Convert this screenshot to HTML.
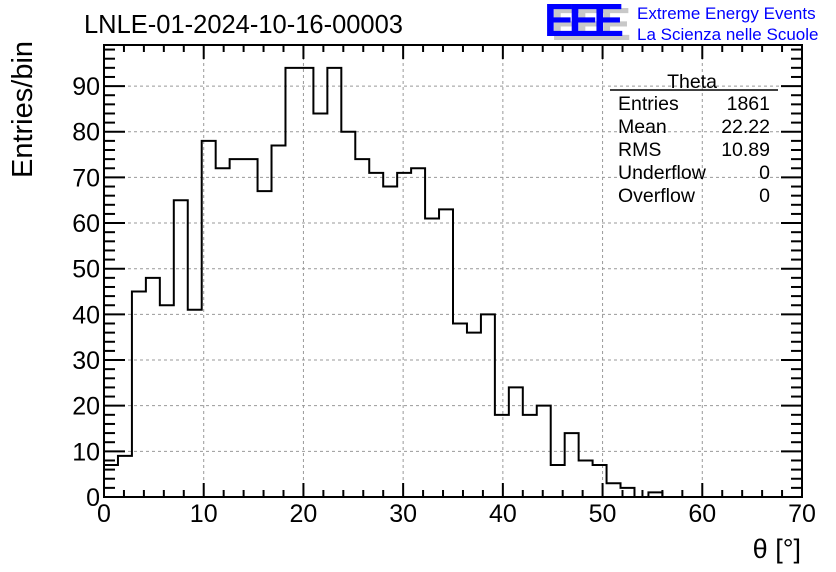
<!DOCTYPE html>
<html><head><meta charset="utf-8"><style>
html,body{margin:0;padding:0;background:#fff;}
svg{display:block;font-family:"Liberation Sans",Arial,sans-serif;}
</style></head><body>
<svg id="chart" width="836" height="572" viewBox="0 0 836 572">
<text x="84" y="33" font-size="25.5">LNLE-01-2024-10-16-00003</text>
<g>
<text x="551" y="40" font-size="46" fill="#c8c8c8" font-weight="bold" letter-spacing="-6">EEE</text>
<text x="544" y="36" font-size="46" fill="#0000ff" font-weight="bold" letter-spacing="-6">EEE</text>
<text x="637" y="19" font-size="17" fill="#0000ff">Extreme Energy Events</text>
<text x="637" y="40" font-size="17" fill="#0000ff">La Scienza nelle Scuole</text>
</g>
<g id="grid"></g>
<g id="hist"></g>
<g id="axes"></g>
<g font-size="19.5">
<text x="692" y="88" text-anchor="middle">Theta</text>
<line x1="610" y1="90" x2="778" y2="90" stroke="#000" stroke-width="1.5"/>
<text x="618" y="110">Entries</text><text x="770" y="110" text-anchor="end">1861</text>
<text x="618" y="133">Mean</text><text x="770" y="133" text-anchor="end">22.22</text>
<text x="618" y="156">RMS</text><text x="770" y="156" text-anchor="end">10.89</text>
<text x="618" y="179">Underflow</text><text x="770" y="179" text-anchor="end">0</text>
<text x="618" y="202">Overflow</text><text x="770" y="202" text-anchor="end">0</text>
</g>
<text x="0" y="0" font-size="29" transform="translate(32,178) rotate(-90)">Entries/bin</text>
<text x="801" y="558" font-size="27" text-anchor="end">θ [°]</text>
</svg>
<script>
const binCounts = [7,9,45,48,42,65,41,78,72,74,74,67,77,94,94,84,94,80,74,71,68,71,72,61,63,38,36,40,18,24,18,20,7,14,8,7,3,2,0,1,0,0,0,0,0,0,0,0,0,0];
const binWidth = 1.4;
const xTicks = [0,10,20,30,40,50,60,70];
const yTicks = [0,10,20,30,40,50,60,70,80,90];
const L=104,R=802,T=45,B=497,XMAX=70,YMAX=99;
const X=v=>L+(R-L)*v/XMAX, Y=v=>B-(B-T)*v/YMAX;
const NS="http://www.w3.org/2000/svg";
function mk(tag,attrs,parent){const e=document.createElementNS(NS,tag);for(const k in attrs)e.setAttribute(k,attrs[k]);parent.appendChild(e);return e;}
const grid=document.getElementById('grid'),hist=document.getElementById('hist'),axes=document.getElementById('axes');
xTicks.forEach(t=>{if(t>0&&t<XMAX){const l=mk('line',{x1:X(t),x2:X(t),y1:T,y2:B,stroke:'#999','stroke-dasharray':'3,3','stroke-width':1},grid);

}});
yTicks.forEach(t=>{if(t>0){const l=mk('line',{x1:L,x2:R,y1:Y(t),y2:Y(t),stroke:'#999','stroke-dasharray':'3,3','stroke-width':1},grid);

}});
let d='M'+X(0)+','+Y(0);
binCounts.forEach((c,i)=>{d+=' L'+X(i*binWidth)+','+Y(c)+' L'+X((i+1)*binWidth)+','+Y(c);});
d+=' L'+X(binCounts.length*binWidth)+','+Y(0);
const p=mk('path',{d:d,fill:'none',stroke:'#000','stroke-width':2},hist);


const fr=mk('rect',{x:L,y:T,width:R-L,height:B-T,fill:'none',stroke:'#000','stroke-width':2},axes);


for(let v=0;v<=XMAX;v+=2){const major=v%10===0;const h=major?14:7;
mk('line',{x1:X(v),x2:X(v),y1:B,y2:B-h,stroke:'#000','stroke-width':2},axes);
mk('line',{x1:X(v),x2:X(v),y1:T,y2:T+h,stroke:'#000','stroke-width':2},axes);}
for(let v=0;v<=YMAX;v+=2){const major=v%10===0;const w=major?21:11;
mk('line',{x1:L,x2:L+w,y1:Y(v),y2:Y(v),stroke:'#000','stroke-width':2},axes);
mk('line',{x1:R,x2:R-w,y1:Y(v),y2:Y(v),stroke:'#000','stroke-width':2},axes);}
xTicks.forEach(t=>{const tx=mk('text',{x:X(t),y:522,'font-size':25,'text-anchor':'middle'},axes);tx.textContent=t;

});
yTicks.forEach(t=>{const tx=mk('text',{x:100,y:Y(t)+9,'font-size':25,'text-anchor':'end'},axes);tx.textContent=t;

});
</script>
</body></html>
